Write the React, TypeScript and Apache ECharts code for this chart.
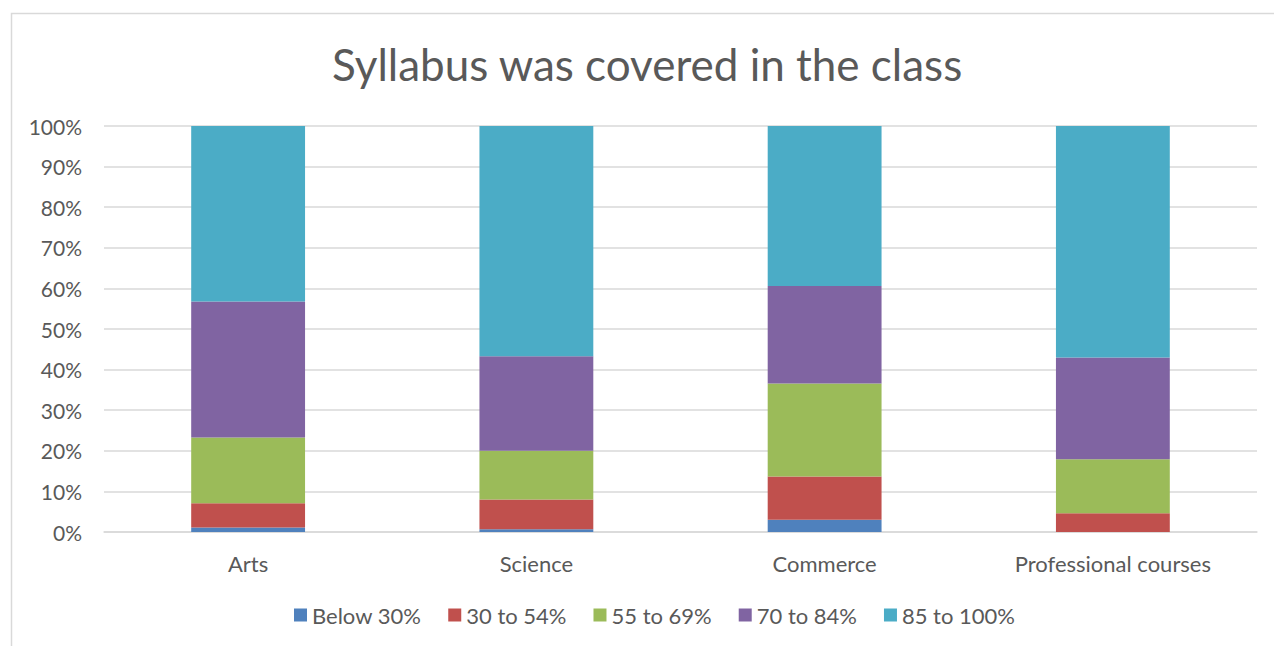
import React, { useEffect, useRef } from "react";
import * as echarts from "echarts";

const categories = ["Arts", "Science", "Commerce", "Professional courses"];
const seriesNames = ["Below 30%", "30 to 54%", "55 to 69%", "70 to 84%", "85 to 100%"];
const below30 = [1.1, 0.7, 3.0, 0];
const from30to54 = [6.0, 7.3, 10.7, 4.6];
const from55to69 = [16.2, 12.0, 22.9, 13.3];
const from70to84 = [33.5, 23.3, 24.0, 25.1];
const from85to100 = [43.2, 56.7, 39.4, 57.0];
const colors = ["#4f81bd", "#c0504d", "#9bbb59", "#8064a2", "#4bacc6"];

const FONT = "Lato, 'Open Sans', sans-serif";
const TEXT = "#595959";

export default function App() {
  const ref = useRef<HTMLDivElement>(null);
  useEffect(() => {
    if (!ref.current) return;
    const chart = echarts.init(ref.current, undefined, { renderer: "svg" });
    const data = [below30, from30to54, from55to69, from70to84, from85to100];
    chart.setOption({
      animation: false,
      color: colors,
      textStyle: { fontFamily: FONT },
      title: {
        text: "Syllabus was covered in the class",
        left: 327,
        top: 37,
        textStyle: { fontFamily: FONT, fontSize: 44, fontWeight: "normal", color: TEXT },
      },
      graphic: [
        {
          type: "rect",
          shape: { x: 11.5, y: 13.5, width: 1300, height: 700 },
          style: { fill: "none", stroke: "#d9d9d9", lineWidth: 1.5 },
          silent: true,
        },
      ],
      grid: { left: 104, right: 17, top: 126, bottom: 114, containLabel: false },
      legend: {
        bottom: 15,
        left: 289,
        itemWidth: 13,
        itemHeight: 13,
        itemGap: 27,
        icon: "rect",
        data: seriesNames,
        textStyle: { fontFamily: FONT, fontSize: 22, color: TEXT },
      },
      xAxis: {
        type: "category",
        data: categories,
        axisLine: { lineStyle: { color: "#d9d9d9", width: 1.5 } },
        axisTick: { show: false },
        axisLabel: { fontFamily: FONT, fontSize: 22, color: TEXT, margin: 20 },
      },
      yAxis: {
        type: "value",
        min: 0,
        max: 100,
        interval: 10,
        axisLine: { show: false },
        axisTick: { show: false },
        splitLine: { lineStyle: { color: "#d9d9d9", width: 1.5 } },
        axisLabel: { formatter: "{value}%", fontFamily: FONT, fontSize: 21, color: TEXT, margin: 22 },
      },
      series: seriesNames.map((name, i) => ({
        name,
        type: "bar",
        stack: "total",
        barWidth: "39.5%",
        data: data[i],
        itemStyle: { color: colors[i] },
      })),
    });
    return () => chart.dispose();
  }, []);
  return (
    <div
      ref={ref}
      style={{ position: "fixed", left: 0, top: 0, width: 1274, height: 646, background: "#fff" }}
    />
  );
}
